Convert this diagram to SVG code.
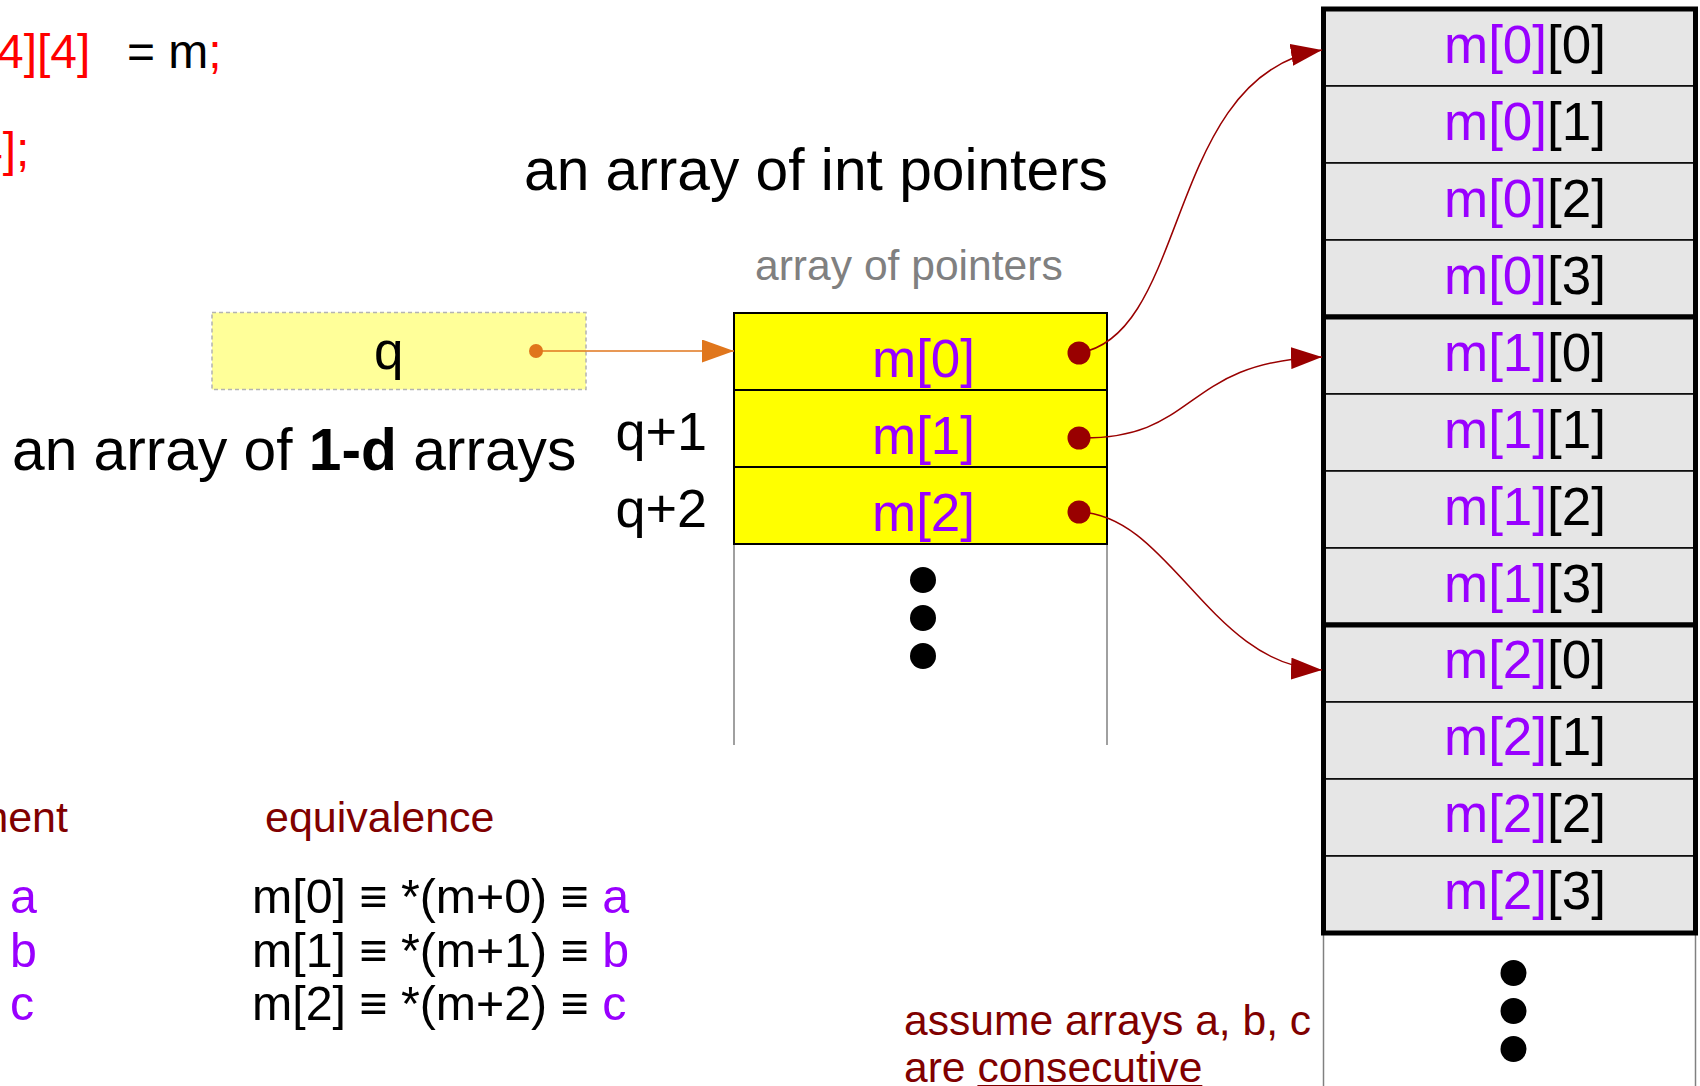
<svg xmlns="http://www.w3.org/2000/svg" width="1700" height="1086" viewBox="0 0 1700 1086">
<style>
text{font-family:"Liberation Sans",Arial,sans-serif}
.big{font-size:58.7px;fill:#000}
.cell{font-size:53px}
.pu{fill:#9900ff}
.bk{fill:#000}
.rd{fill:#ff0000}
.dr{fill:#800000}
.code{font-size:48px}
.lbl{font-size:42.6px}
.eq{font-size:48.3px}
.ycell{fill:#ffff00;stroke:#000;stroke-width:2}
.gcell{fill:#e6e6e6;stroke:#000;stroke-width:1.5}
.thick{fill:none;stroke:#000;stroke-width:5}
.vline{stroke:#808080;stroke-width:1.5;fill:none}
.dot{fill:#000}
.pdot{fill:#990000}
.conn{fill:none;stroke:#990000;stroke-width:1.5}
</style>
<defs>
<marker id="arrOr" markerUnits="userSpaceOnUse" markerWidth="32" markerHeight="23" refX="32" refY="11.5" orient="auto">
<path d="M0,0 L32,11.5 L0,23 z" fill="#e0761c"/>
</marker>
<marker id="arrRd" markerUnits="userSpaceOnUse" markerWidth="31" markerHeight="22" refX="31" refY="11" orient="auto">
<path d="M0,0 L31,11 L0,22 z" fill="#990000"/>
</marker>
</defs>
<rect x="0" y="0" width="1700" height="1086" fill="#fff"/>

<g id="code">
<text class="code" y="68"><tspan class="rd" x="-3">4][4]</tspan><tspan class="bk" x="127">= m</tspan><tspan class="rd">;</tspan></text>
<text class="code rd" x="-24" y="166">4];</text>
</g>

<text id="title-int-pointers" class="big" x="524" y="190">an array of int pointers</text>
<text id="title-array-of-pointers" class="lbl" x="755" y="280" fill="#808080">array of pointers</text>
<text id="title-1d-arrays" class="big" x="12" y="470">an array of <tspan font-weight="bold">1-d</tspan> arrays</text>

<g id="q">
<rect x="212" y="312.5" width="374" height="77" fill="#ffff99" stroke="#b3b3b3" stroke-width="1.5" stroke-dasharray="4,3"/>
<text class="cell bk" x="374" y="369">q</text>
<circle cx="536" cy="351" r="7" fill="#e0761c"/>
</g>

<text id="q1" class="bk" font-size="54" x="707" y="450" text-anchor="end">q+1</text>
<text id="q2" class="bk" font-size="54" x="707" y="527" text-anchor="end">q+2</text>

<g id="ptr-array">
<line class="vline" x1="734" y1="544" x2="734" y2="745"/>
<line class="vline" x1="1107" y1="544" x2="1107" y2="745"/>
<g id="m0"><rect class="ycell" x="734" y="313" width="373" height="77"/><text class="cell pu" x="872" y="377">m[0]</text><circle class="pdot" cx="1079" cy="353" r="11.5"/></g>
<g id="m1"><rect class="ycell" x="734" y="390" width="373" height="77"/><text class="cell pu" x="872" y="454">m[1]</text><circle class="pdot" cx="1079" cy="438" r="11.5"/></g>
<g id="m2"><rect class="ycell" x="734" y="467" width="373" height="77"/><text class="cell pu" x="872" y="531">m[2]</text><circle class="pdot" cx="1079" cy="512" r="11.5"/></g>
<circle class="dot" cx="923" cy="580" r="13"/>
<circle class="dot" cx="923" cy="618" r="13"/>
<circle class="dot" cx="923" cy="656" r="13"/>
</g>

<g id="matrix">
<line class="vline" x1="1323.5" y1="933" x2="1323.5" y2="1086"/>
<line class="vline" x1="1695.5" y1="933" x2="1695.5" y2="1086"/>
<g id="row0">
<g id="m00"><rect class="gcell" x="1323.5" y="9" width="372" height="77"/><text class="cell" x="1444" y="63"><tspan class="pu">m[0]</tspan><tspan class="bk">[0]</tspan></text></g>
<g id="m01"><rect class="gcell" x="1323.5" y="86" width="372" height="77"/><text class="cell" x="1444" y="140"><tspan class="pu">m[0]</tspan><tspan class="bk">[1]</tspan></text></g>
<g id="m02"><rect class="gcell" x="1323.5" y="163" width="372" height="77"/><text class="cell" x="1444" y="217"><tspan class="pu">m[0]</tspan><tspan class="bk">[2]</tspan></text></g>
<g id="m03"><rect class="gcell" x="1323.5" y="240" width="372" height="77"/><text class="cell" x="1444" y="294"><tspan class="pu">m[0]</tspan><tspan class="bk">[3]</tspan></text></g>
<rect class="thick" x="1323.5" y="9" width="372" height="308"/>
</g>
<g id="row1">
<g id="m10"><rect class="gcell" x="1323.5" y="317" width="372" height="77"/><text class="cell" x="1444" y="371"><tspan class="pu">m[1]</tspan><tspan class="bk">[0]</tspan></text></g>
<g id="m11"><rect class="gcell" x="1323.5" y="394" width="372" height="77"/><text class="cell" x="1444" y="448"><tspan class="pu">m[1]</tspan><tspan class="bk">[1]</tspan></text></g>
<g id="m12"><rect class="gcell" x="1323.5" y="471" width="372" height="77"/><text class="cell" x="1444" y="525"><tspan class="pu">m[1]</tspan><tspan class="bk">[2]</tspan></text></g>
<g id="m13"><rect class="gcell" x="1323.5" y="548" width="372" height="77"/><text class="cell" x="1444" y="602"><tspan class="pu">m[1]</tspan><tspan class="bk">[3]</tspan></text></g>
<rect class="thick" x="1323.5" y="317" width="372" height="308"/>
</g>
<g id="row2">
<g id="m20"><rect class="gcell" x="1323.5" y="625" width="372" height="77"/><text class="cell" x="1444" y="678"><tspan class="pu">m[2]</tspan><tspan class="bk">[0]</tspan></text></g>
<g id="m21"><rect class="gcell" x="1323.5" y="702" width="372" height="77"/><text class="cell" x="1444" y="755"><tspan class="pu">m[2]</tspan><tspan class="bk">[1]</tspan></text></g>
<g id="m22"><rect class="gcell" x="1323.5" y="779" width="372" height="77"/><text class="cell" x="1444" y="832"><tspan class="pu">m[2]</tspan><tspan class="bk">[2]</tspan></text></g>
<g id="m23"><rect class="gcell" x="1323.5" y="856" width="372" height="77"/><text class="cell" x="1444" y="909"><tspan class="pu">m[2]</tspan><tspan class="bk">[3]</tspan></text></g>
<rect class="thick" x="1323.5" y="625" width="372" height="308"/>
</g>
<circle class="dot" cx="1513.5" cy="973" r="13"/>
<circle class="dot" cx="1513.5" cy="1011" r="13"/>
<circle class="dot" cx="1513.5" cy="1049" r="13"/>
</g>

<g id="connectors">
<line x1="536" y1="351" x2="734" y2="351" stroke="#e0761c" stroke-width="1.5" marker-end="url(#arrOr)"/>
<path class="conn" d="M1079,353 C1190,335 1165,75 1322,50" marker-end="url(#arrRd)"/>
<path class="conn" d="M1079,438 C1200,440 1180,362 1322,357" marker-end="url(#arrRd)"/>
<path class="conn" d="M1079,512 C1170,515 1210,665 1322,670" marker-end="url(#arrRd)"/>
</g>

<g id="table">
<text class="dr" font-size="43" x="68" y="832" text-anchor="end">ment</text>
<text class="dr" font-size="43" x="265" y="832">equivalence</text>
<text class="eq pu" x="10" y="913">a</text>
<text class="eq pu" x="10" y="967">b</text>
<text class="eq pu" x="10" y="1020">c</text>
<text class="eq" x="252" y="913"><tspan class="bk">m[0] ≡ *(m+0) ≡ </tspan><tspan class="pu">a</tspan></text>
<text class="eq" x="252" y="967"><tspan class="bk">m[1] ≡ *(m+1) ≡ </tspan><tspan class="pu">b</tspan></text>
<text class="eq" x="252" y="1020"><tspan class="bk">m[2] ≡ *(m+2) ≡ </tspan><tspan class="pu">c</tspan></text>
</g>

<g id="note">
<text class="lbl dr" x="904" y="1035">assume arrays a, b, c</text>
<text class="lbl dr" x="904" y="1082">are <tspan text-decoration="underline">consecutive</tspan></text>
</g>
</svg>
